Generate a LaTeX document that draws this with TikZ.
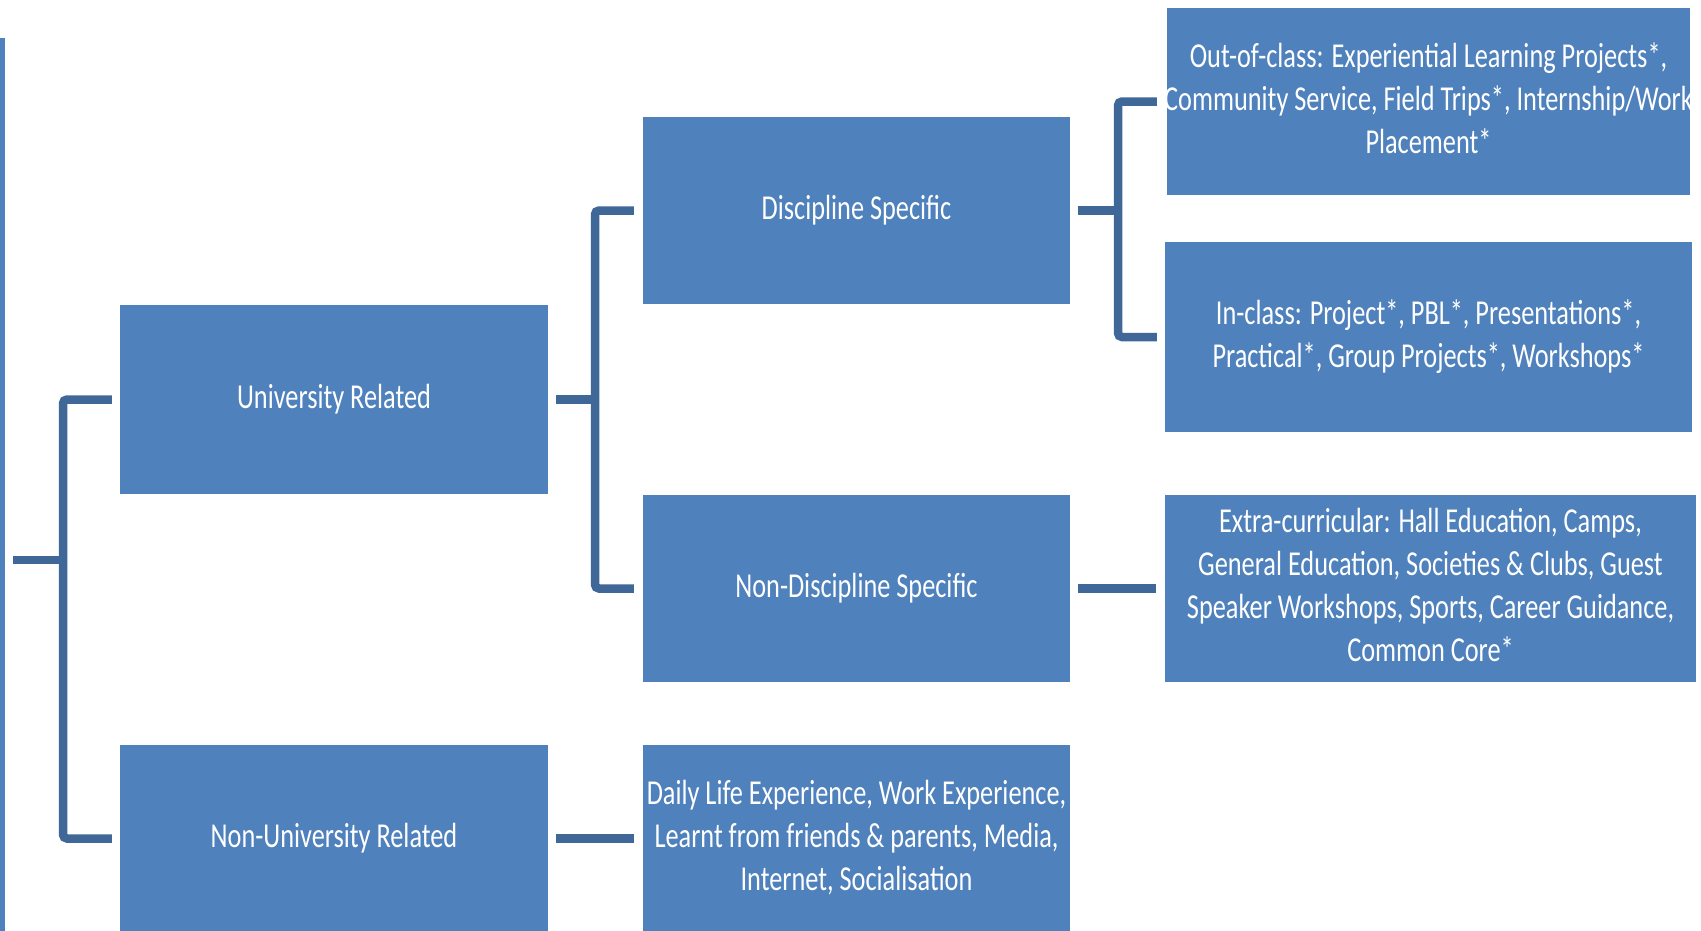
\documentclass[tikz,border=0pt]{standalone}
\usepackage{fontspec}
\setmainfont{Carlito}
\usepackage{graphicx}
\definecolor{boxblue}{HTML}{4F81BD}
\definecolor{connblue}{HTML}{3F6798}
\newcommand\lbl[1]{\scalebox{1}[1.33]{\begin{tabular}{@{}c@{}}#1\end{tabular}}}
\begin{document}
\begin{tikzpicture}[x=1pt,y=-1pt,
  box/.style={fill=boxblue, draw=none, inner sep=0pt, text=white,
    font=\fontsize{26.3}{32.3}\selectfont, minimum width=427pt, minimum height=187pt},
  txt/.style={text=white, inner sep=0pt, font=\fontsize{26.3}{32.3}\selectfont},
  conn/.style={draw=connblue, line width=8.5pt, rounded corners=4pt}]
\useasboundingbox (0,0) rectangle (1701,930);
\clip (0,0) rectangle (1701,930);
\fill[white] (0,0) rectangle (1701,930);
% root edge
\node[fill=boxblue, inner sep=0pt, minimum width=4.5pt, minimum height=895pt, anchor=north west] (rootedge) at (0,38) {};
% level 1
\node[box, minimum width=428pt, minimum height=189pt] (univ) at (334,399.5) {\lbl{University Related}};
\node[box, minimum width=428pt] (nonuniv) at (334,838.5) {\lbl{Non-University Related}};
% level 2
\node[box] (disc) at (856.5,210.5) {\lbl{Discipline Specific}};
\node[box] (nondisc) at (856.5,588.5) {\lbl{Non-Discipline Specific}};
\node[box] (daily) at (856.5,838.5) {\lbl{Daily Life Experience, Work Experience,\\Learnt from friends \& parents, Media,\\Internet, Socialisation}};
% level 3
\node[box, minimum width=523pt, path picture={\node[txt] at (path picture bounding box.center) {\lbl{Out-of-class: Experiential Learning Projects*,\\Community Service, Field Trips*, Internship/Work\\Placement*}};}] (outc) at (1428.5,101.5) {};
\node[box, minimum width=527pt, minimum height=190pt] (inc) at (1428.5,337) {\lbl{In-class: Project*, PBL*, Presentations*,\\Practical*, Group Projects*, Workshops*}};
\node[box, minimum width=531pt] (extra) at (1430.5,588.5) {\lbl{Extra-curricular: Hall Education, Camps,\\General Education, Societies \& Clubs, Guest\\Speaker Workshops, Sports, Career Guidance,\\Common Core*}};
% connectors
\coordinate (rootstub) at (13,560);
\draw[conn] (rootstub) -- (63,560);
\draw[conn] ([xshift=-8pt]univ.west) -| (63,560) |- ([xshift=-8pt]nonuniv.west);
\draw[conn] ([xshift=8pt]univ.east) -- (595,399.5);
\draw[conn] ([xshift=-9pt]disc.west) -| (595,399.5) |- ([xshift=-9pt]nondisc.west);
\draw[conn] ([xshift=8pt]nonuniv.east) -- ([xshift=-9pt]daily.west);
\draw[conn] ([xshift=8pt]disc.east) -- (1118,210.5);
\draw[conn] ([xshift=-10pt]outc.west) -| (1118,210.5) |- ([xshift=-8pt]inc.west);
\draw[conn] ([xshift=8pt]nondisc.east) -- ([xshift=-9pt]extra.west);
\end{tikzpicture}
\end{document}
